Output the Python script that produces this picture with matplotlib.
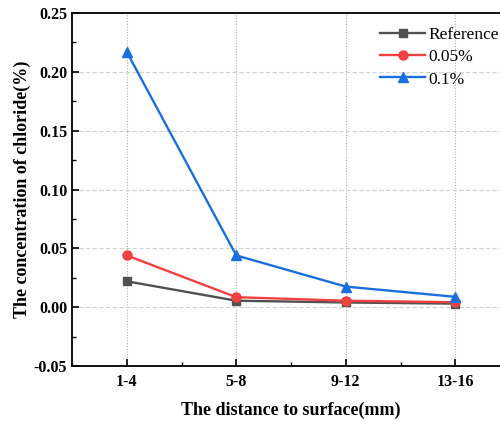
import matplotlib
matplotlib.use("Agg")
import matplotlib.pyplot as plt
from matplotlib.ticker import MultipleLocator

categories = ["1-4", "5-8", "9-12", "13-16"]
reference = [0.022, 0.0055, 0.004, 0.003]
pct_005 = [0.044, 0.0085, 0.0055, 0.0042]
pct_01 = [0.217, 0.044, 0.0175, 0.0088]

plt.rcParams['font.family'] = ['Liberation Serif', 'DejaVu Serif']

fig = plt.figure(figsize=(5, 4.21), dpi=100)
ax = fig.add_axes([0.144, 0.1306, 0.876, 0.8385])

x = list(range(1, len(categories) + 1))
ax.plot(x, reference, color='#515151', marker='s', markersize=6, lw=1.7, label='Reference', zorder=3)
ax.plot(x, pct_005, color='#F14040', marker='o', markersize=6.5, lw=1.7, label='0.05%', zorder=3)
ax.plot(x, pct_01, color='#1A6FDF', marker='^', markersize=7, lw=1.7, label='0.1%', zorder=3)

ax.set_xlim(0.5, 4.5)
ax.set_ylim(-0.05, 0.25)
ax.set_xticks(x)
ax.set_xticklabels(categories)
ax.xaxis.set_minor_locator(MultipleLocator(0.5))
ax.yaxis.set_major_locator(MultipleLocator(0.05))
ax.yaxis.set_minor_locator(MultipleLocator(0.025))
ax.yaxis.set_major_formatter(matplotlib.ticker.FuncFormatter(lambda v, p: f"{v:.2f}"))

ax.tick_params(which='major', direction='in', length=5, width=1.2, labelsize=11.5)
ax.tick_params(axis='x', which='major', pad=5.5)
ax.tick_params(which='minor', direction='in', length=3, width=1.0)
for lab in ax.get_xticklabels() + ax.get_yticklabels():
    lab.set_fontweight('bold')

for s in ax.spines.values():
    s.set_linewidth(1.3)

ax.grid(axis='y', which='major', linestyle=(0, (4, 2)), color='#d0d0d0', lw=0.8)
ax.grid(axis='x', which='major', linestyle=(0, (1, 1.5)), color='#b0b0b0', lw=0.8)
ax.set_axisbelow(True)

ax.set_xlabel('The distance to surface(mm)', fontsize=13, fontweight='bold', labelpad=9)
ax.set_ylabel('The concentration of chloride(%)', fontsize=13, fontweight='bold', labelpad=2)

leg = ax.legend(loc='upper left', bbox_to_anchor=(0.68, 0.99), frameon=False, fontsize=12.5,
                handlelength=2.6, handletextpad=0.2, labelspacing=0.35, borderaxespad=0.2)

fig.savefig('out.png', dpi=100)
